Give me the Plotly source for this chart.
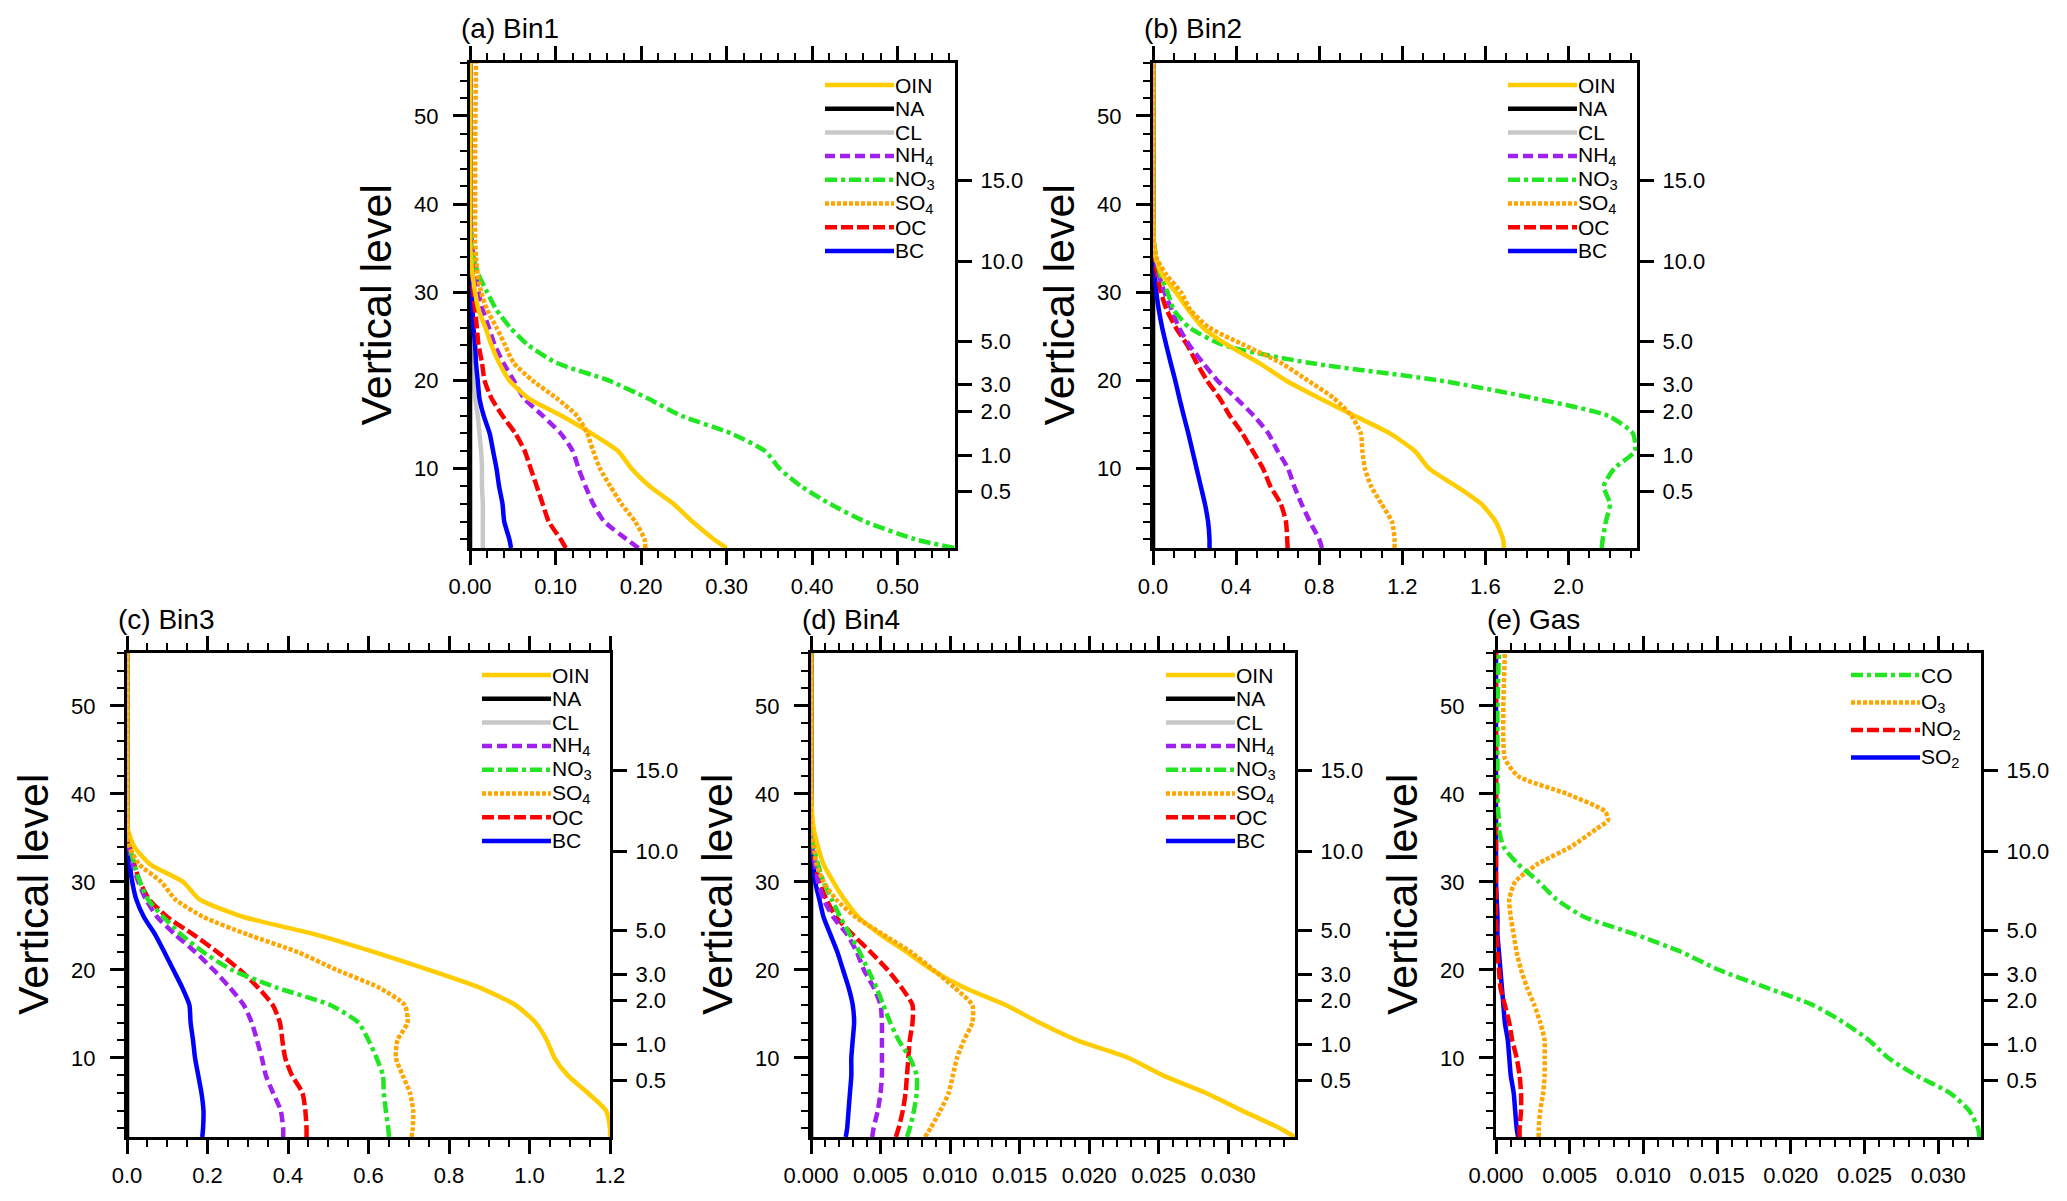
import plotly.graph_objects as go

W, H = 2067, 1201
PAD = 8  # default body margin of the html page
FW, FH = W - 2 * PAD, H - 2 * PAD
FONT = "Liberation Sans, Arial, sans-serif"

# model levels at which the profiles were read
lev = [1, 2, 4, 6, 8, 10, 12, 14, 16, 18, 20, 22, 24, 26, 28, 30, 32, 34, 36, 40, 46, 56]
lev_gas = [1, 2, 4, 6, 8, 10, 12, 14, 16, 18, 20, 22, 24, 26, 28, 30, 32, 34, 36, 37, 38, 40, 42, 44, 46, 50, 56]

zeros = [0.0] * len(lev)

# (a) Bin1
a_oin = [0.300, 0.285, 0.260, 0.238, 0.210, 0.189, 0.173, 0.142, 0.107, 0.068, 0.046, 0.034, 0.025, 0.018, 0.010, 0.006, 0.003, 0.001, 0, 0, 0, 0]
a_na = zeros
a_cl = [0.015, 0.015, 0.015, 0.015, 0.014, 0.014, 0.013, 0.011, 0.009, 0.006, 0.004, 0.003, 0.002, 0.001, 0, 0, 0, 0, 0, 0, 0, 0]
a_nh4 = [0.197, 0.183, 0.157, 0.144, 0.135, 0.127, 0.120, 0.106, 0.085, 0.063, 0.051, 0.039, 0.029, 0.022, 0.015, 0.010, 0.007, 0.004, 0.002, 0, 0, 0]
a_no3 = [0.566, 0.520, 0.462, 0.421, 0.387, 0.362, 0.345, 0.305, 0.247, 0.207, 0.162, 0.101, 0.068, 0.047, 0.031, 0.020, 0.010, 0.004, 0.001, 0, 0, 0]
a_so4 = [0.205, 0.204, 0.193, 0.177, 0.164, 0.152, 0.144, 0.137, 0.125, 0.101, 0.073, 0.051, 0.041, 0.031, 0.020, 0.013, 0.009, 0.007, 0.006, 0.006, 0.006, 0.007]
a_oc = [0.112, 0.106, 0.092, 0.085, 0.078, 0.071, 0.064, 0.053, 0.038, 0.025, 0.017, 0.014, 0.010, 0.008, 0.006, 0.004, 0.003, 0.001, 0, 0, 0, 0]
a_bc = [0.048, 0.046, 0.040, 0.038, 0.034, 0.031, 0.027, 0.023, 0.016, 0.011, 0.009, 0.007, 0.006, 0.004, 0.003, 0.002, 0.001, 0, 0, 0, 0, 0]

# (b) Bin2
b_oin = [1.69, 1.685, 1.65, 1.58, 1.46, 1.33, 1.26, 1.14, 0.97, 0.80, 0.64, 0.51, 0.36, 0.24, 0.17, 0.11, 0.045, 0.012, 0.003, 0, 0, 0]
b_na = zeros
b_cl = zeros
b_nh4 = [0.813, 0.80, 0.755, 0.715, 0.68, 0.65, 0.60, 0.555, 0.485, 0.40, 0.31, 0.24, 0.175, 0.125, 0.09, 0.055, 0.028, 0.01, 0.002, 0, 0, 0]
b_no3 = [2.16, 2.165, 2.18, 2.20, 2.17, 2.22, 2.32, 2.31, 2.19, 1.83, 1.38, 0.75, 0.34, 0.175, 0.10, 0.07, 0.035, 0.015, 0.004, 0, 0, 0]
b_so4 = [1.163, 1.163, 1.15, 1.10, 1.05, 1.02, 1.008, 1.0, 0.955, 0.87, 0.745, 0.615, 0.44, 0.27, 0.18, 0.135, 0.064, 0.015, 0.003, 0, 0, 0]
b_oc = [0.648, 0.646, 0.64, 0.615, 0.565, 0.53, 0.48, 0.43, 0.37, 0.32, 0.26, 0.21, 0.165, 0.11, 0.066, 0.038, 0.02, 0.007, 0.002, 0, 0, 0]
b_bc = [0.272, 0.272, 0.265, 0.25, 0.23, 0.21, 0.19, 0.17, 0.148, 0.127, 0.107, 0.085, 0.064, 0.044, 0.028, 0.016, 0.009, 0.004, 0.001, 0, 0, 0]

# (c) Bin3
c_oin = [1.20, 1.20, 1.19, 1.145, 1.095, 1.062, 1.043, 1.015, 0.965, 0.875, 0.75, 0.615, 0.47, 0.29, 0.18, 0.139, 0.057, 0.018, 0.002, 0, 0, 0]
c_na = zeros
c_cl = zeros
c_nh4 = [0.388, 0.388, 0.382, 0.363, 0.345, 0.335, 0.323, 0.31, 0.29, 0.255, 0.215, 0.17, 0.12, 0.075, 0.047, 0.028, 0.014, 0.005, 0.001, 0, 0, 0]
c_no3 = [0.651, 0.649, 0.643, 0.638, 0.636, 0.62, 0.60, 0.575, 0.505, 0.37, 0.26, 0.19, 0.135, 0.09, 0.052, 0.032, 0.018, 0.007, 0.001, 0, 0, 0]
c_so4 = [0.707, 0.71, 0.711, 0.703, 0.685, 0.668, 0.672, 0.697, 0.69, 0.625, 0.52, 0.425, 0.30, 0.19, 0.12, 0.085, 0.03, 0.006, 0.001, 0, 0, 0]
c_oc = [0.446, 0.446, 0.443, 0.436, 0.41, 0.393, 0.386, 0.38, 0.362, 0.325, 0.28, 0.225, 0.165, 0.10, 0.055, 0.032, 0.018, 0.007, 0.001, 0, 0, 0]
c_bc = [0.187, 0.189, 0.19, 0.185, 0.177, 0.169, 0.164, 0.158, 0.155, 0.137, 0.115, 0.093, 0.07, 0.042, 0.023, 0.013, 0.007, 0.003, 0, 0, 0, 0]

# (d) Bin4
d_oin = [0.0348, 0.0337, 0.0310, 0.0284, 0.0253, 0.0228, 0.0191, 0.0164, 0.0140, 0.0110, 0.0087, 0.0069, 0.0050, 0.0034, 0.0024, 0.0016, 0.0009, 0.0005, 0.0002, 0, 0, 0]
d_na = zeros
d_cl = zeros
d_nh4 = [0.0044, 0.0045, 0.0048, 0.0050, 0.0051, 0.0051, 0.0051, 0.0051, 0.0050, 0.0045, 0.0038, 0.0033, 0.0026, 0.0016, 0.0009, 0.0005, 0.0003, 0.0001, 0, 0, 0, 0]
d_no3 = [0.0069, 0.0071, 0.0074, 0.0076, 0.0076, 0.0071, 0.0063, 0.0057, 0.0052, 0.0047, 0.0041, 0.0035, 0.0028, 0.0021, 0.0015, 0.0009, 0.0005, 0.0002, 0, 0, 0, 0]
d_so4 = [0.0082, 0.0086, 0.0093, 0.0099, 0.0102, 0.0105, 0.0110, 0.0116, 0.0116, 0.0103, 0.0088, 0.0072, 0.0052, 0.0032, 0.0018, 0.0009, 0.0004, 0.0002, 0, 0, 0, 0]
d_oc = [0.0061, 0.0063, 0.0066, 0.0068, 0.0069, 0.0070, 0.0071, 0.0073, 0.0073, 0.0065, 0.0055, 0.0043, 0.0030, 0.0018, 0.0011, 0.0006, 0.0003, 0.0001, 0, 0, 0, 0]
d_bc = [0.0025, 0.0026, 0.0027, 0.0028, 0.0029, 0.0029, 0.0030, 0.0031, 0.0030, 0.0027, 0.0023, 0.0019, 0.0014, 0.0009, 0.0006, 0.0003, 0.0002, 0.0001, 0, 0, 0, 0]

# (e) Gas
e_co = [0.0328, 0.0327, 0.0321, 0.0308, 0.0285, 0.0266, 0.0253, 0.0236, 0.0215, 0.0183, 0.0151, 0.0126, 0.0095, 0.0060, 0.0041, 0.0029, 0.0015, 0.0005, 0.0002, 0.0002, 0.00015, 0.0001, 0.0001, 0.0001, 0.0001, 0.0001, 0.0002]
e_o3 = [0.0029, 0.0029, 0.0030, 0.0032, 0.0033, 0.0033, 0.0033, 0.0030, 0.0026, 0.0021, 0.0017, 0.0014, 0.0012, 0.0010, 0.0009, 0.0013, 0.0028, 0.0051, 0.0068, 0.0076, 0.0074, 0.0048, 0.0015, 0.0006, 0.0005, 0.0005, 0.0006]
e_no2 = [0.0016, 0.0016, 0.0017, 0.0017, 0.0016, 0.0014, 0.0011, 0.0009, 0.0006, 0.0003, 0.0002, 0.0001, 0.00005, 0, 0, 0, 0, 0, 0, 0, 0, 0, 0, 0, 0, 0, 0]
e_so2 = [0.0015, 0.0014, 0.0013, 0.0012, 0.0010, 0.0009, 0.0008, 0.0006, 0.0005, 0.0004, 0.0003, 0.0002, 0.0001, 0.0001, 0.00005, 0, 0, 0, 0, 0, 0, 0, 0, 0, 0, 0, 0]

# right-hand axis: height (km) at model level
height_lev = [7.45, 11.5, 16.48, 19.51, 24.45, 33.48, 42.67]
height_km = ["0.5", "1.0", "2.0", "3.0", "5.0", "10.0", "15.0"]

aero_names = ["OIN", "NA", "CL", "NH<sub>4</sub>", "NO<sub>3</sub>", "SO<sub>4</sub>", "OC", "BC"]
aero_colors = ["#FFCC00", "#000000", "#C8C8C8", "#A020F0", "#22E622", "#FFA500", "#FF0000", "#0000FF"]
aero_dash = ["solid", "solid", "solid", "10px,5px", "12px,4px,4px,4px", "4px,2px", "12px,4px", "solid"]
aero_order = [2, 1, 7, 6, 3, 4, 0, 5]  # drawing order (last on top)

gas_names = ["CO", "O<sub>3</sub>", "NO<sub>2</sub>", "SO<sub>2</sub>"]
gas_colors = ["#22E622", "#FFA500", "#FF0000", "#0000FF"]
gas_dash = ["12px,4px,4px,4px", "4px,2px", "12px,4px", "solid"]
gas_order = [3, 2, 1, 0]

panels = [
    dict(title="(a) Bin1", box=(470, 955, 63, 548), y=lev,
         series=[a_oin, a_na, a_cl, a_nh4, a_no3, a_so4, a_oc, a_bc],
         names=aero_names, colors=aero_colors, dash=aero_dash, order=aero_order,
         xmax=0.567, dtick=0.1, minor=0.02, fmt=".2f", gap=23.7),
    dict(title="(b) Bin2", box=(1153, 1637, 63, 548), y=lev,
         series=[b_oin, b_na, b_cl, b_nh4, b_no3, b_so4, b_oc, b_bc],
         names=aero_names, colors=aero_colors, dash=aero_dash, order=aero_order,
         xmax=2.33, dtick=0.4, minor=0.1, fmt=".1f", gap=23.7),
    dict(title="(c) Bin3", box=(127, 610, 653, 1137), y=lev,
         series=[c_oin, c_na, c_cl, c_nh4, c_no3, c_so4, c_oc, c_bc],
         names=aero_names, colors=aero_colors, dash=aero_dash, order=aero_order,
         xmax=1.2, dtick=0.2, minor=0.05, fmt=".1f", gap=23.7),
    dict(title="(d) Bin4", box=(811, 1295, 653, 1137), y=lev,
         series=[d_oin, d_na, d_cl, d_nh4, d_no3, d_so4, d_oc, d_bc],
         names=aero_names, colors=aero_colors, dash=aero_dash, order=aero_order,
         xmax=0.0348, dtick=0.005, minor=0.001, fmt=".3f", gap=23.7),
    dict(title="(e) Gas", box=(1496, 1981, 653, 1137), y=lev_gas,
         series=[e_co, e_o3, e_no2, e_so2],
         names=gas_names, colors=gas_colors, dash=gas_dash, order=gas_order,
         xmax=0.0329, dtick=0.005, minor=0.001, fmt=".3f", gap=27.5),
]


# page pixel -> paper fraction (the figure sits PAD px inside the page)
def px_x(v):
    return (v - PAD) / FW


def px_y(v):
    return 1 - (v - PAD) / FH


fig = go.Figure()
shapes = []
annotations = []
tickfont = dict(family=FONT, size=22, color="black")

for k, p in enumerate(panels, start=1):
    l, r, t, b = p["box"]
    xa, ya, yb = f"x{k}", f"y{k}", f"y{k + 5}"
    for j in p["order"]:
        fig.add_trace(go.Scatter(
            x=p["series"][j], y=p["y"], mode="lines", xaxis=xa, yaxis=ya, showlegend=False,
            line=dict(color=p["colors"][j], width=4.5, dash=p["dash"][j],
                      shape="spline", smoothing=0.6),
            hoverinfo="skip"))
    # empty trace so the right-hand height axis is drawn
    fig.add_trace(go.Scatter(x=[None], y=[None], xaxis=xa, yaxis=yb,
                             showlegend=False, hoverinfo="skip"))

    fig.layout[f"xaxis{k}"] = dict(
        domain=[px_x(l), px_x(r)], anchor=ya, range=[0, p["xmax"]],
        tick0=0, dtick=p["dtick"], tickformat=p["fmt"],
        ticks="outside", ticklen=14, tickwidth=3, tickcolor="black",
        minor=dict(ticks="outside", ticklen=7, tickwidth=2, dtick=p["minor"], tick0=0, tickcolor="black"),
        showline=True, linewidth=3, linecolor="black", mirror="ticks",
        showgrid=False, zeroline=False, tickfont=tickfont,
        ticklabelstandoff=3, automargin=False, fixedrange=True)
    fig.layout[f"yaxis{k}"] = dict(
        domain=[px_y(b), px_y(t)], anchor=xa, range=[1, 56],
        tick0=0, dtick=10, ticks="outside", ticklen=14, tickwidth=3, tickcolor="black",
        minor=dict(ticks="outside", ticklen=7, tickwidth=2, dtick=2, tick0=0, tickcolor="black"),
        showline=True, linewidth=3, linecolor="black",
        showgrid=False, zeroline=False, tickfont=tickfont,
        ticklabelstandoff=10, automargin=False, fixedrange=True)
    fig.layout[f"yaxis{k + 5}"] = dict(
        overlaying=ya, anchor=xa, side="right", range=[1, 56],
        tickmode="array", tickvals=height_lev, ticktext=height_km,
        ticks="outside", ticklen=14, tickwidth=3, tickcolor="black",
        showline=True, linewidth=3, linecolor="black",
        showgrid=False, zeroline=False, tickfont=tickfont,
        ticklabelstandoff=4, automargin=False, fixedrange=True)

    # panel title and axis title
    annotations.append(dict(
        text=p["title"], x=px_x(l - 11), y=px_y(t - 34), xref="paper", yref="paper",
        xanchor="left", yanchor="middle", showarrow=False,
        font=dict(family=FONT, size=28, color="black")))
    annotations.append(dict(
        text="Vertical level", x=px_x(l - 94), y=px_y((t + b) / 2), xref="paper", yref="paper",
        xanchor="center", yanchor="middle", textangle=-90, showarrow=False,
        font=dict(family=FONT, size=43, color="black")))

    # legend drawn inside the frame, top right
    for i, (name, col, dash) in enumerate(zip(p["names"], p["colors"], p["dash"])):
        yy = t + 22 + i * p["gap"]
        shapes.append(dict(
            type="line", xref="paper", yref="paper",
            x0=px_x(l + 355), x1=px_x(l + 424), y0=px_y(yy), y1=px_y(yy),
            line=dict(color=col, width=4.5, dash=dash)))
        annotations.append(dict(
            text=name, x=px_x(l + 423), y=px_y(yy), xref="paper", yref="paper",
            xanchor="left", yanchor="middle", showarrow=False,
            font=dict(family=FONT, size=21, color="black")))

fig.update_layout(
    width=FW, height=FH, margin=dict(l=0, r=0, t=0, b=0),
    paper_bgcolor="white", plot_bgcolor="white",
    shapes=shapes, annotations=annotations, showlegend=False,
    font=dict(family=FONT, color="black"))

fig.write_html("out.html")
